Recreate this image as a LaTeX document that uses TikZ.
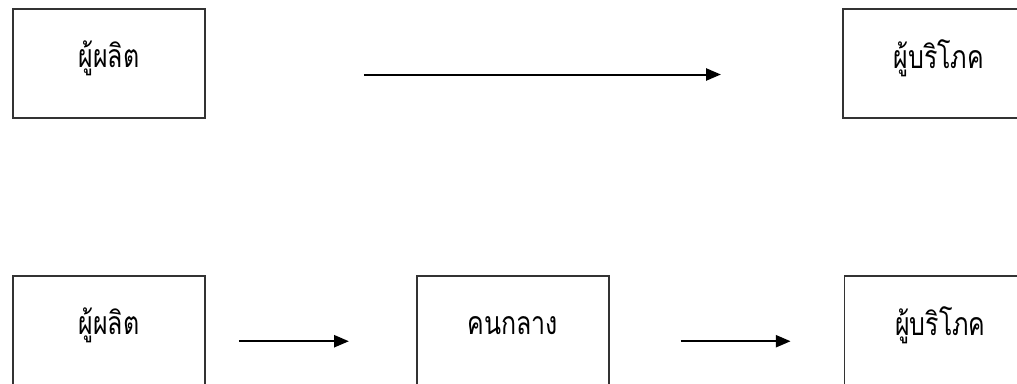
\documentclass[tikz,border=0pt]{standalone}
\usepackage{fontspec}
\newfontfamily\thaifont[Script=Thai]{Loma}
\usetikzlibrary{
  arrows.meta,
  positioning,
}
\tikzset{
  >={Triangle[length=11pt,width=9pt]},
  box/.style={draw=black!80,line width=1.3pt,rectangle,minimum width=144pt,minimum height=81.75pt,font=\thaifont\fontsize{24}{28}\selectfont},
  link/.style={->,line width=1.5pt},
}
\newcommand{\boxtext}[1]{\raisebox{3.75pt}[\height][\depth]{\scalebox{0.78}[1]{#1}}}

\begin{document}
\begin{tikzpicture}[x=0.75pt,y=0.75pt,node distance=0mm and 0mm]
        \useasboundingbox (0,0) rectangle (1017,383);

        \node[box]    (p1)     at (109,319.5)   {\boxtext{ผู้ผลิต}};
        \node[box]    (c1)     [right=477pt of p1]   {\boxtext{ผู้บริโภค}};

        \node[box]    (p2)     [below=117pt of p1]   {\boxtext{ผู้ผลิต}};
        \node[box]    (m2)     [right=157.5pt of p2]   {\boxtext{คนกลาง}};
        \node[box]    (c2)     [right=175.5pt of m2]   {\boxtext{ผู้บริโภค}};

        \draw[link,shorten <=118.5pt,shorten >=90.75pt] ([yshift=-8.25pt]p1.east) -- ([yshift=-8.25pt]c1.west);
        \draw[link,shorten <=24.75pt,shorten >=50.25pt] ([yshift=-8.25pt]p2.east) -- ([yshift=-8.25pt]m2.west);
        \draw[link,shorten <=53.25pt,shorten >=39.75pt] ([yshift=-8.25pt]m2.east) -- ([yshift=-8.25pt]c2.west);

\end{tikzpicture}
\end{document}
